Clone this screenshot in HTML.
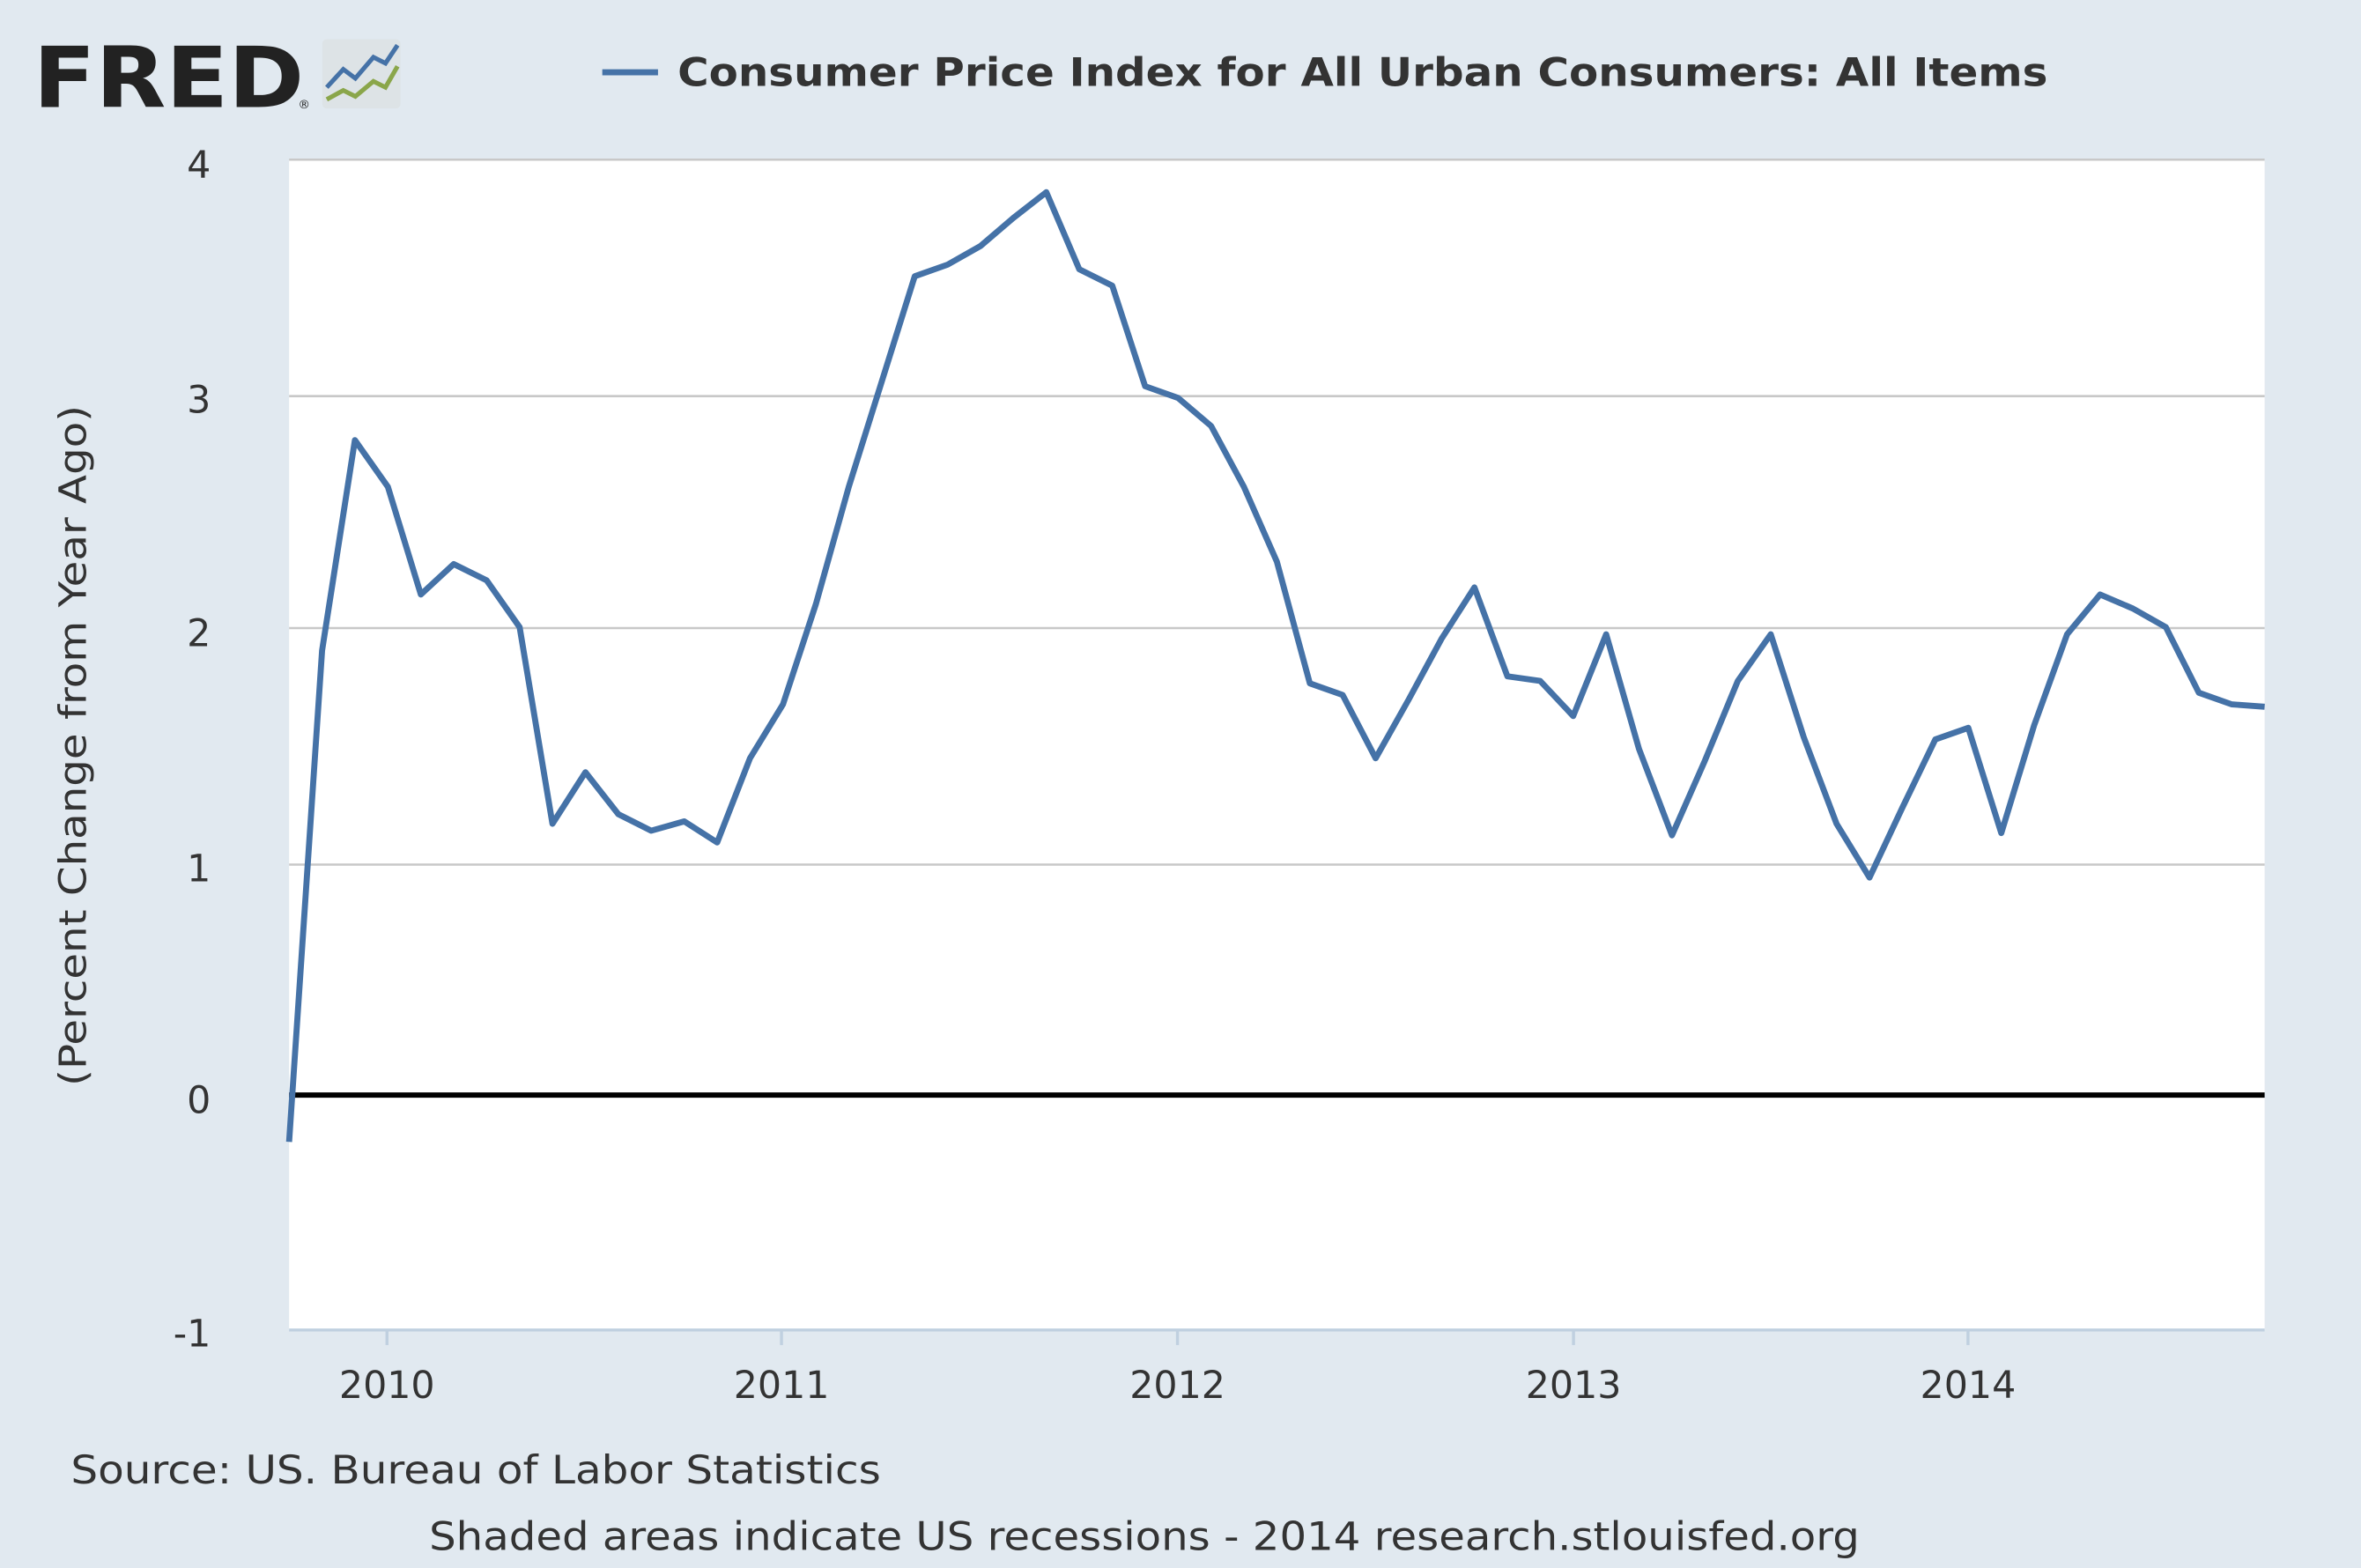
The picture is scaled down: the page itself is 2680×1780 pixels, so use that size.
<!DOCTYPE html>
<html><head><meta charset="utf-8"><style>
html,body{margin:0;padding:0;background:#e1e9f0;}
svg{display:block;}
text{font-family:"DejaVu Sans","Liberation Sans",sans-serif;}
</style></head><body>
<svg width="2680" height="1780" viewBox="0 0 1568 1041" preserveAspectRatio="none" xmlns="http://www.w3.org/2000/svg">
<rect x="0" y="0" width="1568" height="1041" fill="#e1e9f0"/>
<text x="22" y="71" font-size="56" font-weight="bold" fill="#222" textLength="180" lengthAdjust="spacingAndGlyphs">FRED</text>
<text x="198" y="72" font-size="8" fill="#222">®</text>
<rect x="214" y="26" width="52" height="46" rx="3" fill="#dde3e6"/>
<polyline points="217,58 228,46 236,52 248,38 256,42 264,30" fill="none" stroke="#4572a7" stroke-width="3"/>
<polyline points="217,66 228,60 236,64 248,54 256,58 264,44" fill="none" stroke="#8aa64a" stroke-width="3"/>
<line x1="400" y1="48" x2="437" y2="48" stroke="#4572a7" stroke-width="4"/>
<text x="450" y="57" font-size="26" font-weight="bold" fill="#333" textLength="910" lengthAdjust="spacingAndGlyphs">Consumer Price Index for All Urban Consumers: All Items</text>
<rect x="192" y="106" width="1312" height="777" fill="#fff"/>
<g stroke="#c8c8c8" stroke-width="1.5">
<line x1="192" y1="106" x2="1504" y2="106"/>
<line x1="192" y1="263" x2="1504" y2="263"/>
<line x1="192" y1="417" x2="1504" y2="417"/>
<line x1="192" y1="574" x2="1504" y2="574"/>
</g>
<line x1="192" y1="727" x2="1504" y2="727" stroke="#000" stroke-width="3.5"/>
<line x1="192" y1="883" x2="1504" y2="883" stroke="#c0d0e0" stroke-width="2"/>
<g stroke="#c0d0e0" stroke-width="2">
<line x1="257" y1="883" x2="257" y2="893"/><line x1="519" y1="883" x2="519" y2="893"/>
<line x1="782" y1="883" x2="782" y2="893"/><line x1="1045" y1="883" x2="1045" y2="893"/>
<line x1="1307" y1="883" x2="1307" y2="893"/>
</g>
<g font-size="25" fill="#333" text-anchor="end">
<text x="140" y="118">4</text><text x="140" y="274">3</text><text x="140" y="429">2</text>
<text x="140" y="585">1</text><text x="140" y="739">0</text><text x="140" y="894">-1</text>
</g>
<g font-size="25" fill="#333" text-anchor="middle">
<text x="257" y="928">2010</text><text x="519" y="928">2011</text><text x="782" y="928">2012</text>
<text x="1045" y="928">2013</text><text x="1307" y="928">2014</text>
</g>
<text transform="translate(57,495) rotate(-90)" font-size="25" fill="#333" text-anchor="middle" textLength="452" lengthAdjust="spacingAndGlyphs">(Percent Change from Year Ago)</text>
<polyline fill="none" stroke="#4572a7" stroke-width="4" stroke-linejoin="round" points="192.0,758.1 213.9,431.9 235.7,292.2 257.6,323.2 279.5,394.7 301.3,374.5 323.2,385.3 345.1,416.4 366.9,546.9 388.8,512.7 410.7,540.6 432.5,551.5 454.4,545.3 476.3,559.3 498.1,503.4 520.0,467.6 541.9,400.9 563.7,323.2 585.6,253.3 607.5,183.4 629.3,175.7 651.2,163.3 673.1,144.6 694.9,127.6 716.8,178.8 738.7,189.7 760.5,256.4 782.4,264.2 804.3,282.8 826.1,323.2 848.0,372.9 869.9,453.7 891.7,461.4 913.6,503.4 935.5,464.5 957.3,424.2 979.2,390.0 1001.1,449.0 1022.9,452.1 1044.8,475.4 1066.7,421.1 1088.5,497.2 1110.4,554.6 1132.3,504.9 1154.1,452.1 1176.0,421.1 1197.9,489.4 1219.7,546.9 1241.6,582.6 1263.5,536.0 1285.3,490.9 1307.2,483.2 1329.1,553.1 1350.9,481.6 1372.8,421.1 1394.7,394.7 1416.5,404.0 1438.4,416.4 1460.3,459.9 1482.1,467.6 1504.0,469.2"/>
<text x="47" y="985" font-size="26" fill="#333" textLength="538" lengthAdjust="spacingAndGlyphs">Source: US. Bureau of Labor Statistics</text>
<text x="285" y="1029" font-size="26" fill="#333" textLength="950" lengthAdjust="spacingAndGlyphs">Shaded areas indicate US recessions - 2014 research.stlouisfed.org</text>
</svg>
</body></html>
